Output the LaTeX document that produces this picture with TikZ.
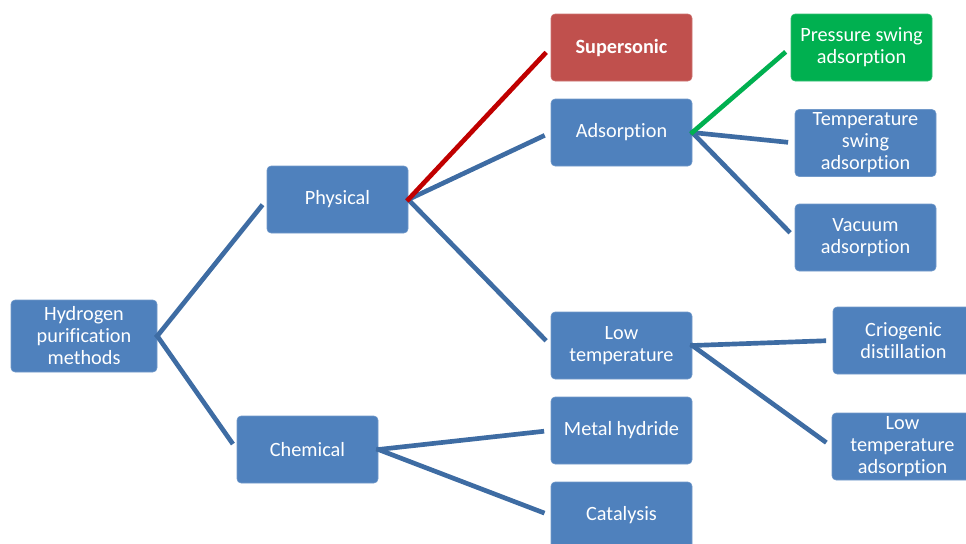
\documentclass[tikz,border=0pt]{standalone}
\usepackage{fontspec}
\setmainfont{Carlito}[Ligatures=NoCommon]
\usetikzlibrary{positioning}
\definecolor{boxblue}{HTML}{4F81BD}
\definecolor{boxred}{HTML}{C0504D}
\definecolor{boxgreen}{HTML}{00B050}
\definecolor{linkblue}{RGB}{62,108,163}
\definecolor{linkred}{HTML}{C00000}
\begin{document}
\begin{tikzpicture}[x=0.75pt, y=-0.75pt,
    box/.style={rectangle, draw=boxblue!80!white, fill=boxblue, rounded corners=3pt,
        text=white, font=\fontsize{15.2}{16.5}\selectfont, minimum width=105.75pt,
        minimum height=50.25pt, align=center, inner sep=2pt},
    redbox/.style={box, draw=boxred!80!white, fill=boxred, font=\fontsize{15.2}{16.5}\selectfont\bfseries},
    greenbox/.style={box, draw=boxgreen!80!white, fill=boxgreen},
    link/.style={line width=3.5pt, linkblue, shorten >=5pt, shorten <=-1.5pt},
    redlink/.style={link, linkred},
    greenlink/.style={link, boxgreen}
]
    \clip (0,0) rectangle (966,543);
    \node[box, minimum width=109.5pt, minimum height=54pt] (root) at (84,336) {Hydrogen\\purification\\methods};
    \node[box] (phys) at (337.5,199.5) {Physical};
    \node[box] (chem) at (307.5,449.5) {Chemical};
    \node[redbox] (sup) at (621.5,47.5) {Supersonic};
    \node[box] (ads) at (621.5,132.5) {Adsorption};
    \node[box] (lowt) at (621.5,345.5) {Low\\temperature};
    \node[box] (hyd) at (621.5,430.5) {Metal hydride};
    \node[box] (cat) at (621.5,515.5) {Catalysis};
    \node[greenbox] (psa) at (861.5,47.5) {Pressure swing\\adsorption};
    \node[box] (tsa) at (865.5,143) {Temperature\\swing\\adsorption};
    \node[box] (vac) at (865.5,237.5) {Vacuum\\adsorption};
    \node[box] (cryo) at (903.5,340.5) {Criogenic\\distillation};
    \node[box] (lta) at (902.5,446.5) {Low\\temperature\\adsorption};
    \draw[link] (root.east) -- (phys.west);
    \draw[link] (root.east) -- (chem.west);
    \draw[link] (phys.east) -- (ads.west);
    \draw[link] (phys.east) -- (lowt.west);
    \draw[redlink] (phys.east) -- (sup.west);
    \draw[link] (chem.east) -- (hyd.west);
    \draw[link] (chem.east) -- (cat.west);
    \draw[link] (ads.east) -- (tsa.west);
    \draw[link] (ads.east) -- (vac.west);
    \draw[greenlink] (ads.east) -- (psa.west);
    \draw[link] (lowt.east) -- (cryo.west);
    \draw[link] (lowt.east) -- (lta.west);
\end{tikzpicture}
\end{document}
